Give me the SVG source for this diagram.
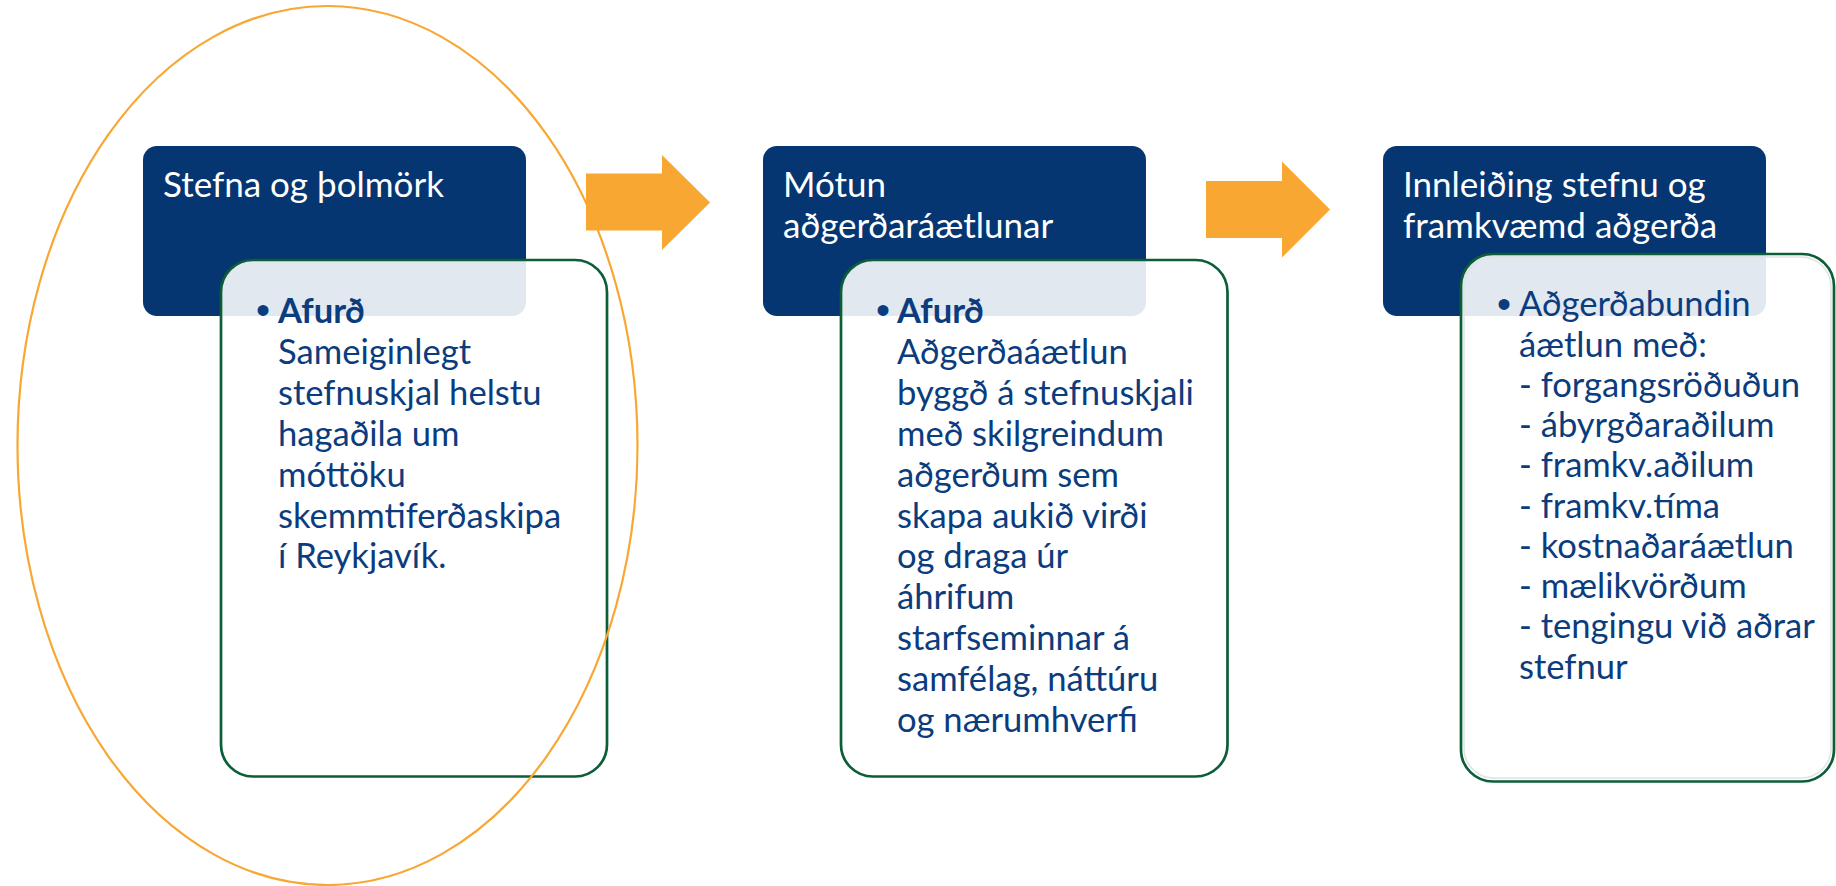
<svg xmlns="http://www.w3.org/2000/svg" width="1836" height="886" viewBox="0 0 1836 886">
<style>
.hdr{fill:#053671}
.hdrt{fill:#ffffff;font-family:Lato,"Open Sans",sans-serif;font-size:35px}
.card{fill:#ffffff;fill-opacity:0.885;stroke:#0B5E38;stroke-width:2.7}
.body{fill:#0B3C7D;font-family:Lato,"Open Sans",sans-serif;font-size:34.6px}
.bul{fill:#0B3C7D;font-family:"Liberation Sans",Arial,sans-serif;font-size:40px}
.b{font-weight:bold}
.arrow{fill:#F8A733}
.ring{fill:none;stroke:#F8A733;stroke-width:2.2}
</style>
<rect width="1836" height="886" fill="#ffffff"/>

<g id="connectors">
  <polygon class="arrow" points="586,173.5 662,173.5 662,155 710,202.5 662,250 662,230.5 586,230.5"/>
  <polygon class="arrow" points="1206,181 1282,181 1282,161.5 1330,209.5 1282,257.5 1282,238 1206,238"/>
</g>

<g id="node-stefna">
  <rect class="hdr" x="143" y="146" width="383" height="170" rx="14"/>
  <text class="hdrt" x="163" y="197">Stefna og þolmörk</text>
</g>
<g id="detail-stefna">
  <rect class="card" x="221" y="260" width="386" height="516.5" rx="32"/>
  <text class="bul" x="256" y="324">•</text>
  <text class="body" x="278" y="323"><tspan class="b">Afurð</tspan><tspan x="278" y="363.5">Sameiginlegt</tspan><tspan x="278" y="404.5">stefnuskjal helstu</tspan><tspan x="278" y="445.5">hagaðila um</tspan><tspan x="278" y="486.5">móttöku</tspan><tspan x="278" y="527.5">skemmtiferðaskipa</tspan><tspan x="278" y="568">í Reykjavík.</tspan></text>
</g>

<g id="node-motun">
  <rect class="hdr" x="763" y="146" width="383" height="170" rx="14"/>
  <text class="hdrt" x="783" y="197">Mótun<tspan x="783" y="237.5">aðgerðaráætlunar</tspan></text>
</g>
<g id="detail-motun">
  <rect class="card" x="841" y="260" width="386.5" height="516.5" rx="32"/>
  <text class="bul" x="876" y="324">•</text>
  <text class="body" x="897" y="323"><tspan class="b">Afurð</tspan><tspan x="897" y="363.5">Aðgerðaáætlun</tspan><tspan x="897" y="404.5">byggð á stefnuskjali</tspan><tspan x="897" y="445.5">með skilgreindum</tspan><tspan x="897" y="486.5">aðgerðum sem</tspan><tspan x="897" y="527.5">skapa aukið virði</tspan><tspan x="897" y="568">og draga úr</tspan><tspan x="897" y="609">áhrifum</tspan><tspan x="897" y="650">starfseminnar á</tspan><tspan x="897" y="691">samfélag, náttúru</tspan><tspan x="897" y="731.5">og nærumhverfi</tspan></text>
</g>

<g id="node-innleiding">
  <rect class="hdr" x="1383" y="146" width="383" height="170" rx="14"/>
  <text class="hdrt" x="1403" y="197">Innleiðing stefnu og<tspan x="1403" y="237.5">framkvæmd aðgerða</tspan></text>
</g>
<g id="detail-innleiding">
  <rect class="card" x="1461" y="254" width="373" height="527.5" rx="32"/>
  <rect x="1464" y="257" width="367" height="521" rx="30" fill="none" stroke="#DCE5E2" stroke-width="1.5"/>
  <text class="bul" x="1497" y="318">•</text>
  <text class="body" x="1519" y="316">Aðgerðabundin<tspan x="1519" y="356.5">áætlun með:</tspan><tspan x="1519" y="396.5">- forgangsröðuðun</tspan><tspan x="1519" y="436.5">- ábyrgðaraðilum</tspan><tspan x="1519" y="477">- framkv.aðilum</tspan><tspan x="1519" y="517.5">- framkv.tíma</tspan><tspan x="1519" y="558">- kostnaðaráætlun</tspan><tspan x="1519" y="598">- mælikvörðum</tspan><tspan x="1519" y="638">- tengingu við aðrar</tspan><tspan x="1519" y="678.5">stefnur</tspan></text>
</g>

<g id="highlight">
  <ellipse class="ring" cx="327.5" cy="445.5" rx="310" ry="439.5"/>
</g>
</svg>
